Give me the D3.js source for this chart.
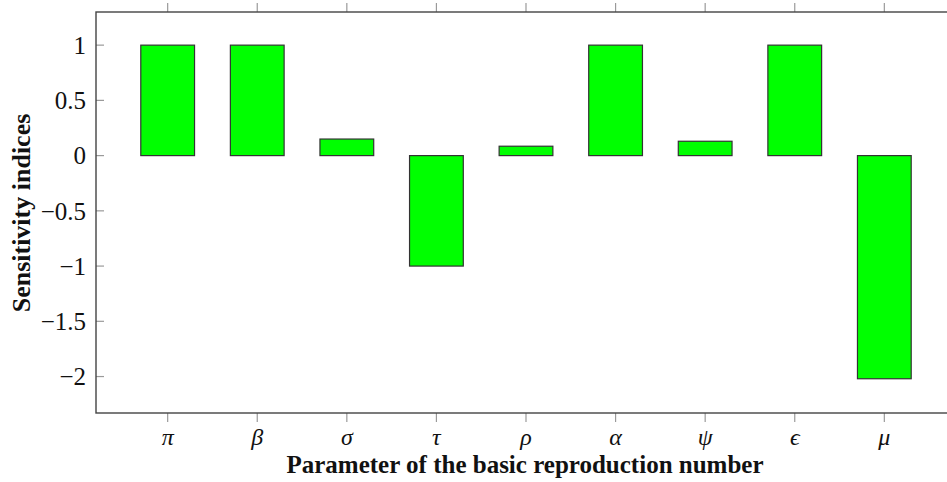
<!DOCTYPE html>
<html>
<head>
<meta charset="utf-8">
<script src="https://cdn.jsdelivr.net/npm/d3@7"></script>
<style>
  html, body { margin: 0; padding: 0; background: #fff; }
  svg { display: block; }
</style>
</head>
<body>
<svg id="chart" width="947" height="482"></svg>
<script>
// Sensitivity indices of the basic reproduction number parameters
const parameters = ["\u03C0", "\u03B2", "\u03C3", "\u03C4", "\u03C1", "\u03B1", "\u03C8", "\u03F5", "\u03BC"];
const indices = [1, 1, 0.15, -1, 0.085, 1, 0.13, 1, -2.02];
const yTicks = [1, 0.5, 0, -0.5, -1, -1.5, -2];

const svg = d3.select("#chart");
const plotLeft = 96, plotRight = 956, plotTop = 12, plotBottom = 413;

const x = d3.scaleLinear().domain([-0.8, parameters.length - 0.2]).range([plotLeft, plotRight]);
const y = d3.scaleLinear().domain([-2.33, 1.30]).range([plotBottom, plotTop]);
const barWidth = x(0.6) - x(0);

const fmt = v => (v < 0 ? "\u2212" : "") + String(Math.abs(v));

// ticks: y inward on both sides, x outward top and bottom
const tickColor = "#9a9a9a";
const g = svg.append("g");

yTicks.forEach(v => {
  g.append("line").attr("x1", plotLeft).attr("x2", plotLeft + 8)
    .attr("y1", y(v)).attr("y2", y(v)).attr("stroke", tickColor).attr("stroke-width", 1.2);
  g.append("line").attr("x1", plotRight).attr("x2", plotRight - 8)
    .attr("y1", y(v)).attr("y2", y(v)).attr("stroke", tickColor).attr("stroke-width", 1.2);
});
parameters.forEach((p, i) => {
  g.append("line").attr("x1", x(i)).attr("x2", x(i))
    .attr("y1", plotBottom).attr("y2", plotBottom + 9).attr("stroke", tickColor).attr("stroke-width", 1.2);
  g.append("line").attr("x1", x(i)).attr("x2", x(i))
    .attr("y1", plotTop).attr("y2", plotTop - 9).attr("stroke", tickColor).attr("stroke-width", 1.2);
});

// bars
svg.append("g").selectAll("rect").data(indices).join("rect")
  .attr("x", (d, i) => x(i) - barWidth / 2)
  .attr("width", barWidth)
  .attr("y", d => y(Math.max(0, d)))
  .attr("height", d => Math.abs(y(d) - y(0)))
  .attr("fill", "#00ff00")
  .attr("stroke", "#333")
  .attr("stroke-width", 1.2);

// frame
svg.append("rect").attr("x", plotLeft).attr("y", plotTop)
  .attr("width", plotRight - plotLeft).attr("height", plotBottom - plotTop)
  .attr("fill", "none").attr("stroke", "#444").attr("stroke-width", 1.4);

// y tick labels
svg.append("g").selectAll("text").data(yTicks).join("text")
  .attr("x", plotLeft - 10).attr("y", d => y(d))
  .attr("dy", "0.35em")
  .attr("text-anchor", "end")
  .attr("font-family", "Liberation Serif, serif")
  .attr("font-size", 25)
  .attr("fill", "#111")
  .text(fmt);

// x tick labels
svg.append("g").selectAll("text").data(parameters).join("text")
  .attr("x", (d, i) => x(i)).attr("y", 445)
  .attr("text-anchor", "middle")
  .attr("font-family", "Liberation Serif, serif")
  .attr("font-style", "italic")
  .attr("font-size", 24)
  .attr("fill", "#111")
  .text(d => d);

// axis titles
svg.append("text")
  .attr("x", 525).attr("y", 473)
  .attr("text-anchor", "middle")
  .attr("font-family", "Liberation Serif, serif")
  .attr("font-weight", "bold")
  .attr("font-size", 25)
  .attr("fill", "#111")
  .text("Parameter of the basic reproduction number");

svg.append("text")
  .attr("transform", "translate(30," + 213 + ") rotate(-90)")
  .attr("text-anchor", "middle")
  .attr("font-family", "Liberation Serif, serif")
  .attr("font-weight", "bold")
  .attr("font-size", 26)
  .attr("fill", "#111")
  .text("Sensitivity indices");
</script>
</body>
</html>
